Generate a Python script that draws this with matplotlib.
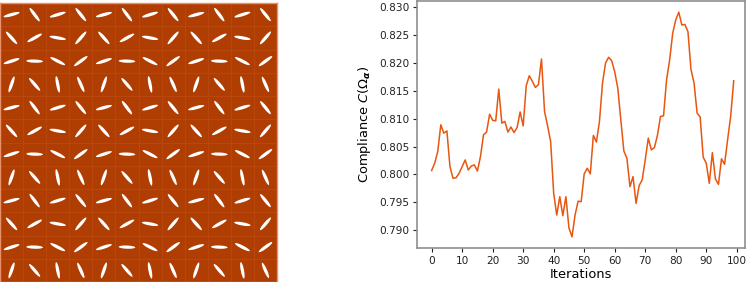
import numpy as np
import matplotlib
matplotlib.use("Agg")
import matplotlib.pyplot as plt
from matplotlib.patches import Ellipse

# ---- data ----
# orientation (degrees, counter-clockwise from horizontal) of the 4x4 repeating unit cell
unit_angles = [
    [15, -53, 17, -51],
    [-48, 29, -10, 49],
    [18, -2, -27, 36],
    [71, -49, -79, -66],
]
n_cells = 12

iterations = list(range(100))
compliance = [
    0.8007, 0.8020, 0.8041, 0.8089, 0.8074, 0.8078, 0.8014, 0.7993, 0.7994, 0.8002,
    0.8014, 0.8026, 0.8008, 0.8015, 0.8017, 0.8006, 0.8032, 0.8071, 0.8076, 0.8108,
    0.8097, 0.8096, 0.8153, 0.8092, 0.8095, 0.8076, 0.8085, 0.8075, 0.8084, 0.8112,
    0.8087, 0.8159, 0.8177, 0.8167, 0.8156, 0.8161, 0.8207, 0.8113, 0.8087, 0.8059,
    0.7966, 0.7927, 0.7960, 0.7926, 0.7960, 0.7904, 0.7888, 0.7927, 0.7952, 0.7951,
    0.8001, 0.8011, 0.8001, 0.8070, 0.8058, 0.8095, 0.8164, 0.8200, 0.8210, 0.8204,
    0.8184, 0.8155, 0.8098, 0.8042, 0.8029, 0.7978, 0.7996, 0.7948, 0.7980, 0.7990,
    0.8026, 0.8065, 0.8044, 0.8048, 0.8070, 0.8104, 0.8105, 0.8170, 0.8205, 0.8253,
    0.8277, 0.8291, 0.8268, 0.8269, 0.8256, 0.8188, 0.8164, 0.8110, 0.8103, 0.8031,
    0.8020, 0.7984, 0.8039, 0.7992, 0.7982, 0.8028, 0.8018, 0.8062, 0.8104, 0.8168,
]
xticks = list(range(0, 101, 10))
yticks = [0.790, 0.795, 0.800, 0.805, 0.810, 0.815, 0.820, 0.825, 0.830]

line_color = "#E8560F"
cell_color = "#B03E02"
grid_color = "#BB4810"

fig = plt.figure(figsize=(7.5, 2.82), dpi=100)

# ---- left panel: microstructure ----
axl = fig.add_axes([0.0, 0.0, 277 / 750, 279 / 282])
axl.set_facecolor(cell_color)
for r in range(n_cells):
    for c in range(n_cells):
        ang = unit_angles[r % 4][c % 4]
        e = Ellipse((c + 0.5, n_cells - r - 0.5), width=0.72, height=0.14,
                    angle=ang, facecolor="white", edgecolor="none")
        axl.add_patch(e)
for k in range(1, n_cells):
    axl.axvline(k, color=grid_color, lw=0.6, zorder=0.5)
    axl.axhline(k, color=grid_color, lw=0.6, zorder=0.5)
axl.set_xlim(0, n_cells)
axl.set_ylim(0, n_cells)
axl.set_xticks([])
axl.set_yticks([])
for s in axl.spines.values():
    s.set_color("#E8906A")
    s.set_linewidth(1.0)

# ---- right panel: compliance history ----
axr = fig.add_axes([417 / 750, 1 - 248 / 282, (745 - 417) / 750, 247 / 282])
axr.plot(iterations, compliance, color=line_color, lw=1.1)
axr.set_xlim(-4.8, 102.7)
axr.set_ylim(0.7868, 0.8311)
axr.set_xticks(xticks)
axr.set_yticks(yticks)
axr.set_yticklabels([f"{v:.3f}" for v in yticks])
axr.tick_params(labelsize=7.6, length=3, width=0.8, pad=2.5, colors="#222222")
axr.set_xlabel("Iterations", fontsize=9.4, labelpad=2)
axr.set_ylabel(r"Compliance $C(\Omega_{\boldsymbol{\alpha}})$", fontsize=9.4, labelpad=4)
for s in axr.spines.values():
    s.set_color("#8f8f8f")
    s.set_linewidth(1.2)

fig.savefig("out.png", dpi=100)
